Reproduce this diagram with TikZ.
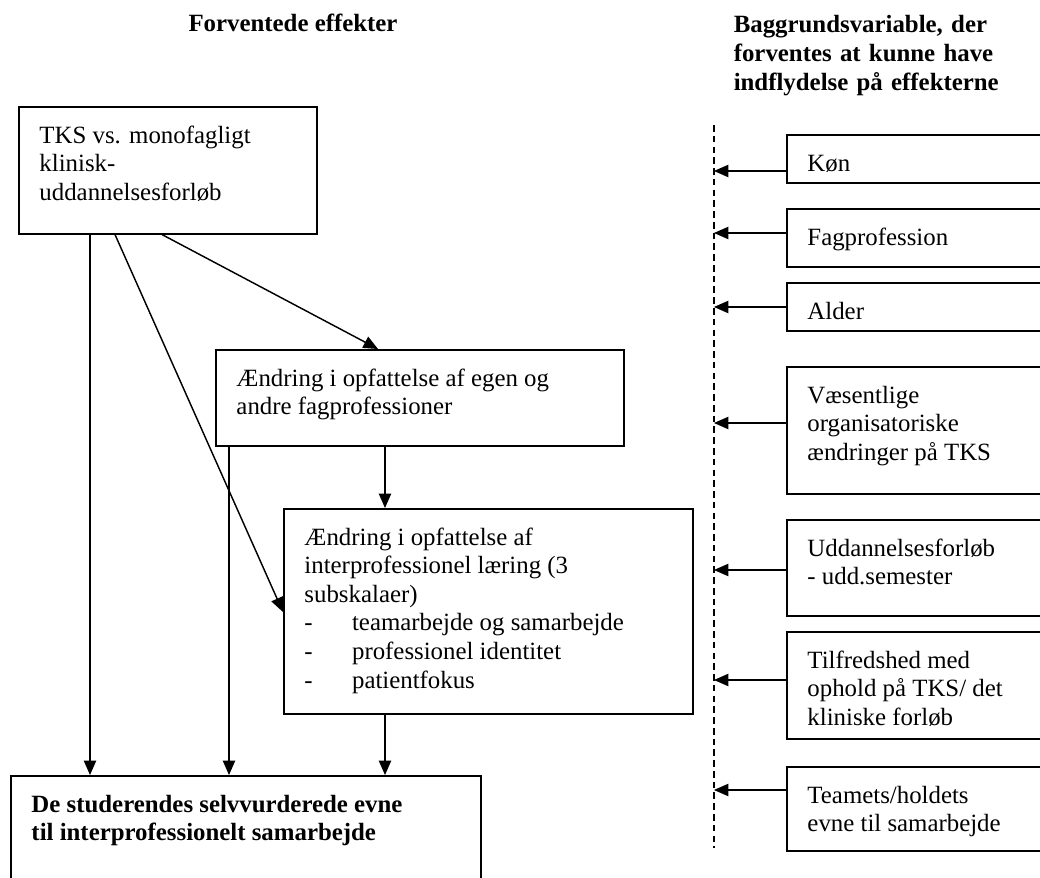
\documentclass[tikz,border=0pt]{standalone}
\usepackage{fontspec}
\setmainfont{Liberation Serif}
\usetikzlibrary{arrows.meta}

\newdimen\pkt
\pkt=0.483pt
\newcommand{\indhold}[3]{\parbox[c][#2\pkt][t]{\dimexpr#1\pkt-20pt\relax}{\raggedright\rule{0pt}{17.6pt}#3}}
\newcommand{\streg}{\makebox[23pt][l]{-}}

\begin{document}
\begin{tikzpicture}[x=0.483pt, y=-0.483pt, line width=0.75pt,
  every node/.style={font=\fontsize{12}{13.8}\selectfont},
  boks/.style={draw, anchor=north west, inner xsep=10pt, inner ysep=0pt},
  pil/.style={-{Triangle[length=7pt,width=6pt]}, line width=0.7pt},
  skille/.style={line width=0.5pt, dash pattern=on 3.2pt off 2pt},
  overskrift/.style={font=\fontsize{12}{13.8}\selectfont\bfseries, inner sep=0pt}]
\useasboundingbox (0,0) rectangle (1040,878);

% 标题
\node[overskrift, anchor=base] (venstre) at (293,32) {Forventede effekter};
\node[overskrift, anchor=base west, text width=150pt, align=left] (hoejre) at (733,33)
  {Baggrundsvariable, der\\forventes at kunne have\\indflydelse på effekterne};

% 左边: 预期效果
\node[boks] (tks) at (18,106) {\indhold{298}{127}{TKS vs. monofagligt\\klinisk-\\uddannelsesforløb}};
\node[boks] (opf) at (215,349) {\indhold{408}{96}{Ændring i opfattelse af egen og\\andre fagprofessioner}};
\node[boks] (ipl) at (283,508) {\indhold{409}{205}{Ændring i opfattelse af\\interprofessionel læring (3\\subskalaer)\\\streg teamarbejde og samarbejde\\\streg professionel identitet\\\streg patientfokus}};
\node[boks] (evne) at (10,775) {\indhold{470}{130}{\bfseries De studerendes selvvurderede evne\\til interprofessionelt samarbejde}};

\draw[pil] (tks.south -| 90,0) -- (evne.north -| 90,0);
\draw[pil] (tks.south -| 115,0) -- (ipl.west |- 0,612);
\draw[pil] (tks.south -| 162,0) -- (opf.north -| 378,0);
\draw[pil] (opf.south -| 229,0) -- (evne.north -| 229,0);
\draw[pil] (opf.south -| 385,0) -- (ipl.north -| 385,0);
\draw[pil] (ipl.south -| 385,0) -- (evne.north -| 385,0);

% 右边: 背景变量
\coordinate (top) at (714,125);
\coordinate (bund) at (714,848);
\draw[skille] (top) -- (bund);

\node[boks] (kon) at (786,134) {\indhold{270}{48}{Køn}};
\node[boks] (fag) at (786,208) {\indhold{270}{58}{Fagprofession}};
\node[boks] (alder) at (786,282) {\indhold{270}{48}{Alder}};
\node[boks] (org) at (786,366) {\indhold{270}{127}{Væsentlige\\organisatoriske\\ændringer på TKS}};
\node[boks] (udd) at (786,519) {\indhold{270}{96}{Uddannelsesforløb\\- udd.semester}};
\node[boks] (tilf) at (786,631) {\indhold{270}{107}{Tilfredshed med\\ophold på TKS/ det\\kliniske forløb}};
\node[boks] (team) at (786,766) {\indhold{270}{84}{Teamets/holdets\\evne til samarbejde}};

\draw[pil] (kon.west |- 0,171) -- (top |- 0,171);
\draw[pil] (fag.west |- 0,233) -- (top |- 0,233);
\draw[pil] (alder.west |- 0,307) -- (top |- 0,307);
\draw[pil] (org.west |- 0,423) -- (top |- 0,423);
\draw[pil] (udd.west |- 0,570) -- (top |- 0,570);
\draw[pil] (tilf.west |- 0,680) -- (top |- 0,680);
\draw[pil] (team.west |- 0,790) -- (top |- 0,790);
\end{tikzpicture}
\end{document}
